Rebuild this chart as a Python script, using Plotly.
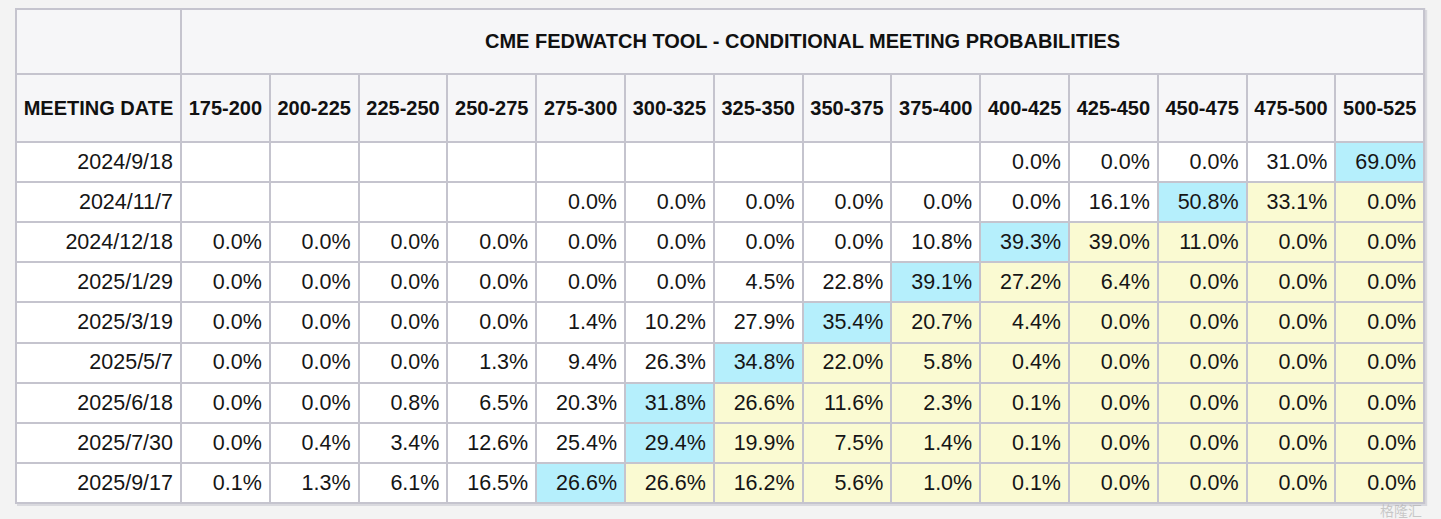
import plotly.graph_objects as go

W, H = 1441, 519

title = "CME FEDWATCH TOOL - CONDITIONAL MEETING PROBABILITIES"
first_col = "MEETING DATE"
ranges = ["175-200", "200-225", "225-250", "250-275", "275-300", "300-325", "325-350",
          "350-375", "375-400", "400-425", "425-450", "450-475", "475-500", "500-525"]
dates = ["2024/9/18", "2024/11/7", "2024/12/18", "2025/1/29", "2025/3/19",
         "2025/5/7", "2025/6/18", "2025/7/30", "2025/9/17"]

# probabilities (%) per meeting, one list per row; None = no quote
p_20240918 = [None] * 9 + [0.0, 0.0, 0.0, 31.0, 69.0]
p_20241107 = [None] * 4 + [0.0, 0.0, 0.0, 0.0, 0.0, 0.0, 16.1, 50.8, 33.1, 0.0]
p_20241218 = [0.0, 0.0, 0.0, 0.0, 0.0, 0.0, 0.0, 0.0, 10.8, 39.3, 39.0, 11.0, 0.0, 0.0]
p_20250129 = [0.0, 0.0, 0.0, 0.0, 0.0, 0.0, 4.5, 22.8, 39.1, 27.2, 6.4, 0.0, 0.0, 0.0]
p_20250319 = [0.0, 0.0, 0.0, 0.0, 1.4, 10.2, 27.9, 35.4, 20.7, 4.4, 0.0, 0.0, 0.0, 0.0]
p_20250507 = [0.0, 0.0, 0.0, 1.3, 9.4, 26.3, 34.8, 22.0, 5.8, 0.4, 0.0, 0.0, 0.0, 0.0]
p_20250618 = [0.0, 0.0, 0.8, 6.5, 20.3, 31.8, 26.6, 11.6, 2.3, 0.1, 0.0, 0.0, 0.0, 0.0]
p_20250730 = [0.0, 0.4, 3.4, 12.6, 25.4, 29.4, 19.9, 7.5, 1.4, 0.1, 0.0, 0.0, 0.0, 0.0]
p_20250917 = [0.1, 1.3, 6.1, 16.5, 26.6, 26.6, 16.2, 5.6, 1.0, 0.1, 0.0, 0.0, 0.0, 0.0]

rows = [p_20240918, p_20241107, p_20241218, p_20250129, p_20250319,
        p_20250507, p_20250618, p_20250730, p_20250917]

WHITE = "#ffffff"
YELLOW = "#fafad2"
CYAN = "#b5effc"
HEAD = "#f6f6f8"
LINE = "#c5c4ce"
PAGE = "#f3f3f3"
FONT = "Liberation Sans, Arial, sans-serif"

# cell codes for the discrete colour scale
C_WHITE, C_YELLOW, C_CYAN, C_HEAD = 0, 1, 2, 3
colorscale = [[0, WHITE], [1 / 6, WHITE], [1 / 6, YELLOW], [0.5, YELLOW],
              [0.5, CYAN], [5 / 6, CYAN], [5 / 6, HEAD], [1, HEAD]]

# table geometry (pixels, axes map 1:1 onto the page)
left, top = 16, 9
date_w, range_w = 165, 88.8
title_h, head_h, row_h = 65, 68, 40.1
pad = 8
dy = 1.5  # nudge text down a little to sit like the reference


def row_codes(vals):
    # most likely range -> cyan, ranges above it -> yellow
    known = [(v, i) for i, v in enumerate(vals) if v is not None]
    peak = max(known, key=lambda t: (t[0], -t[1]))[1]
    out = [C_WHITE]  # date column
    for i, v in enumerate(vals):
        if v is None or i < peak:
            out.append(C_WHITE)
        elif i == peak:
            out.append(C_CYAN)
        else:
            out.append(C_YELLOW)
    return out


x_edges = [left, left + date_w] + [left + date_w + range_w * (k + 1) for k in range(len(ranges))]
y_edges = [top + title_h, top + title_h + head_h]
for k in range(len(dates)):
    y_edges.append(y_edges[-1] + row_h)
right, bottom = x_edges[-1], y_edges[-1]

z_body = [[C_HEAD] * (len(ranges) + 1)] + [row_codes(r) for r in rows]

fig = go.Figure()

# merged title row
fig.add_trace(go.Heatmap(
    x=[left, left + date_w, right], y=[top, top + title_h],
    z=[[C_HEAD, C_HEAD]],
    colorscale=colorscale, zmin=0, zmax=3, showscale=False,
    xgap=2, ygap=2, hoverinfo="skip",
))

# header row + probability cells
fig.add_trace(go.Heatmap(
    x=x_edges, y=y_edges, z=z_body,
    colorscale=colorscale, zmin=0, zmax=3, showscale=False,
    xgap=2, ygap=2, hoverinfo="skip",
))

x_mid = [(a + b) / 2 for a, b in zip(x_edges[:-1], x_edges[1:])]
y_mid = [(a + b) / 2 + dy for a, b in zip(y_edges[:-1], y_edges[1:])]

# title text
fig.add_trace(go.Scatter(
    x=[(left + date_w + right) / 2], y=[top + title_h / 2 + dy],
    mode="text", text=[title], textposition="middle center",
    textfont={"family": FONT, "size": 20, "color": "#111111", "weight": "bold"},
    hoverinfo="skip", showlegend=False,
))

# column headers
fig.add_trace(go.Scatter(
    x=x_mid, y=[y_mid[0]] * len(x_mid),
    mode="text", text=[first_col] + ranges, textposition="middle center",
    textfont={"family": FONT, "size": 20, "color": "#111111", "weight": "bold"},
    hoverinfo="skip", showlegend=False,
))

# dates and probabilities, right aligned in their cells
tx, ty, tt = [], [], []
for r, (d, vals) in enumerate(zip(dates, rows)):
    labels = [d] + ["" if v is None else f"{v:.1f}%" for v in vals]
    for c, lab in enumerate(labels):
        if lab:
            tx.append(x_edges[c + 1] - pad)
            ty.append(y_mid[r + 1])
            tt.append(lab)

fig.add_trace(go.Scatter(
    x=tx, y=ty, mode="text", text=tt, textposition="middle left",
    textfont={"family": FONT, "size": 21.5, "color": "#151515"},
    hoverinfo="skip", showlegend=False,
))

fig.update_layout(
    width=W, height=H,
    margin={"l": 0, "r": 0, "t": 0, "b": 0},
    paper_bgcolor=PAGE, plot_bgcolor=PAGE,
    xaxis={"range": [0, W], "visible": False, "fixedrange": True},
    yaxis={"range": [H, 0], "visible": False, "fixedrange": True},
    shapes=[
        # soft drop shadow, then grid line colour showing through the cell gaps
        {"type": "rect", "layer": "below", "x0": left + 1, "x1": right + 3,
         "y0": top + 1, "y1": bottom + 3, "fillcolor": "#d9d9de", "line": {"width": 0}},
        {"type": "rect", "layer": "below", "x0": left - 1, "x1": right + 1,
         "y0": top - 1, "y1": bottom + 1, "fillcolor": LINE, "line": {"width": 0}},
    ],
    annotations=[
        # watermark in the bottom right corner
        {"text": "格隆汇", "x": 1424, "y": 510, "xref": "x", "yref": "y",
         "xanchor": "right", "yanchor": "middle", "showarrow": False,
         "font": {"family": "Noto Sans CJK SC", "size": 14, "color": "rgba(170,170,170,0.6)"}},
    ],
)

# drop the default 8px page margin so the figure fills the window
fig.write_html(
    "out.html",
    config={"displayModeBar": False},
    post_script="document.body.style.margin='0';document.body.style.background='" + PAGE + "';",
)
